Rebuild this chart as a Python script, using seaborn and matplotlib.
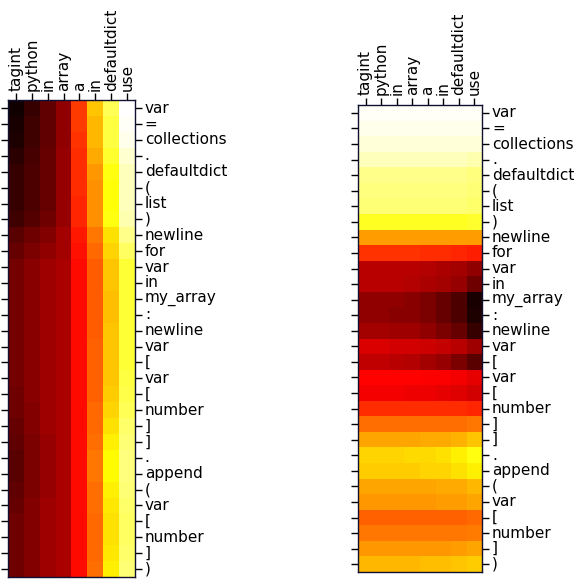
import numpy as np
import matplotlib
matplotlib.use("Agg")
import matplotlib.pyplot as plt
import seaborn as sns

# -----------------------------
# данные
# -----------------------------
columns = ["tagint", "python", "in", "array", "a", "in", "defaultdict", "use"]

tokens = ["var", "=", "collections", ".", "defaultdict", "(", "list", ")",
          "newline", "for", "var", "in", "my_array", ":", "newline",
          "var", "[", "var", "[", "number", "]", "]", ".", "append",
          "(", "var", "[", "number", "]", ")"]

# left heatmap: one row per token, one value per column
left_values = [
    [0.01, 0.07, 0.13, 0.20, 0.45, 0.66, 0.83, 1.00],
    [0.02, 0.08, 0.13, 0.20, 0.45, 0.64, 0.81, 0.99],
    [0.03, 0.08, 0.13, 0.20, 0.44, 0.64, 0.81, 0.98],
    [0.05, 0.09, 0.14, 0.21, 0.43, 0.62, 0.79, 0.95],
    [0.07, 0.10, 0.14, 0.21, 0.43, 0.59, 0.76, 0.93],
    [0.07, 0.10, 0.14, 0.21, 0.43, 0.58, 0.75, 0.93],
    [0.07, 0.10, 0.14, 0.21, 0.42, 0.58, 0.75, 0.93],
    [0.08, 0.11, 0.15, 0.21, 0.42, 0.58, 0.76, 0.92],
    [0.12, 0.15, 0.18, 0.23, 0.40, 0.54, 0.70, 0.88],
    [0.14, 0.17, 0.20, 0.23, 0.39, 0.52, 0.68, 0.84],
    [0.16, 0.19, 0.22, 0.24, 0.38, 0.50, 0.66, 0.80],
    [0.16, 0.19, 0.22, 0.24, 0.38, 0.50, 0.66, 0.80],
    [0.16, 0.19, 0.22, 0.24, 0.38, 0.50, 0.65, 0.80],
    [0.16, 0.19, 0.22, 0.24, 0.38, 0.50, 0.65, 0.80],
    [0.16, 0.19, 0.22, 0.24, 0.38, 0.50, 0.66, 0.80],
    [0.16, 0.19, 0.22, 0.24, 0.38, 0.51, 0.66, 0.80],
    [0.16, 0.19, 0.22, 0.24, 0.38, 0.51, 0.66, 0.80],
    [0.16, 0.19, 0.22, 0.24, 0.38, 0.51, 0.66, 0.81],
    [0.15, 0.19, 0.22, 0.24, 0.38, 0.51, 0.67, 0.82],
    [0.15, 0.18, 0.22, 0.24, 0.38, 0.52, 0.68, 0.83],
    [0.14, 0.18, 0.22, 0.24, 0.38, 0.52, 0.70, 0.85],
    [0.13, 0.17, 0.21, 0.24, 0.38, 0.53, 0.72, 0.86],
    [0.12, 0.17, 0.21, 0.24, 0.38, 0.54, 0.74, 0.87],
    [0.12, 0.17, 0.21, 0.24, 0.38, 0.54, 0.74, 0.87],
    [0.13, 0.17, 0.21, 0.24, 0.38, 0.53, 0.72, 0.86],
    [0.14, 0.18, 0.22, 0.24, 0.38, 0.53, 0.71, 0.85],
    [0.15, 0.18, 0.22, 0.24, 0.38, 0.52, 0.70, 0.84],
    [0.15, 0.18, 0.22, 0.24, 0.38, 0.52, 0.70, 0.84],
    [0.15, 0.18, 0.22, 0.24, 0.38, 0.52, 0.71, 0.85],
    [0.15, 0.18, 0.22, 0.24, 0.38, 0.53, 0.72, 0.86],
]

# right heatmap
right_values = [
    [0.99, 0.99, 0.99, 0.99, 0.99, 0.99, 0.99, 0.99],
    [0.98, 0.98, 0.98, 0.98, 0.98, 0.98, 0.98, 0.98],
    [0.96, 0.96, 0.96, 0.96, 0.96, 0.96, 0.96, 0.96],
    [0.93, 0.93, 0.93, 0.93, 0.93, 0.93, 0.93, 0.92],
    [0.88, 0.88, 0.88, 0.88, 0.88, 0.88, 0.88, 0.87],
    [0.87, 0.87, 0.87, 0.87, 0.87, 0.87, 0.87, 0.86],
    [0.86, 0.86, 0.86, 0.86, 0.86, 0.86, 0.86, 0.85],
    [0.78, 0.78, 0.78, 0.78, 0.78, 0.78, 0.78, 0.79],
    [0.60, 0.60, 0.60, 0.60, 0.60, 0.60, 0.60, 0.60],
    [0.44, 0.44, 0.44, 0.44, 0.43, 0.43, 0.42, 0.41],
    [0.26, 0.26, 0.26, 0.26, 0.25, 0.24, 0.23, 0.20],
    [0.26, 0.26, 0.26, 0.25, 0.24, 0.23, 0.21, 0.15],
    [0.20, 0.20, 0.20, 0.19, 0.17, 0.14, 0.10, 0.02],
    [0.20, 0.20, 0.19, 0.19, 0.17, 0.14, 0.10, 0.03],
    [0.23, 0.23, 0.22, 0.22, 0.20, 0.17, 0.14, 0.07],
    [0.31, 0.31, 0.30, 0.30, 0.29, 0.28, 0.26, 0.22],
    [0.27, 0.27, 0.26, 0.25, 0.23, 0.21, 0.17, 0.12],
    [0.37, 0.37, 0.37, 0.37, 0.36, 0.36, 0.35, 0.33],
    [0.35, 0.35, 0.35, 0.34, 0.34, 0.33, 0.32, 0.30],
    [0.43, 0.43, 0.43, 0.43, 0.43, 0.43, 0.43, 0.42],
    [0.53, 0.53, 0.53, 0.53, 0.53, 0.53, 0.53, 0.54],
    [0.61, 0.61, 0.61, 0.61, 0.62, 0.62, 0.63, 0.66],
    [0.68, 0.68, 0.68, 0.69, 0.69, 0.70, 0.72, 0.76],
    [0.67, 0.67, 0.67, 0.67, 0.68, 0.68, 0.70, 0.72],
    [0.61, 0.61, 0.61, 0.61, 0.61, 0.62, 0.62, 0.64],
    [0.59, 0.59, 0.59, 0.59, 0.59, 0.60, 0.60, 0.61],
    [0.51, 0.51, 0.51, 0.51, 0.51, 0.51, 0.51, 0.52],
    [0.54, 0.54, 0.54, 0.54, 0.54, 0.54, 0.54, 0.55],
    [0.59, 0.59, 0.59, 0.59, 0.59, 0.59, 0.60, 0.61],
    [0.64, 0.64, 0.64, 0.64, 0.65, 0.65, 0.66, 0.67],
]

# -----------------------------
# рисование
# -----------------------------
plt.rcParams['font.family'] = ['DejaVu Sans']

fig = plt.figure(figsize=(5.74, 5.80), dpi=100)
ax_left = fig.add_axes([0.0122, 0.0052, 0.2247, 0.822])
ax_right = fig.add_axes([0.622, 0.0138, 0.2195, 0.805])


def draw(ax, values):
    sns.heatmap(np.array(values), cmap='hot', vmin=0, vmax=1, cbar=False,
                square=True, xticklabels=columns, yticklabels=tokens,
                linewidths=0, ax=ax)
    for s in ax.spines.values():
        s.set_visible(True)
        s.set_color('#101030')
        s.set_linewidth(1.0)
    ax.xaxis.tick_top()
    ax.yaxis.tick_right()
    ax.tick_params(left=True, right=True, top=True, bottom=False,
                   labelleft=False, labelright=True, labeltop=True,
                   labelbottom=False, direction='out', length=5,
                   width=1, labelsize=11, pad=2)
    ax.set_xticklabels(columns, rotation=90, va='bottom', ha='center')
    ax.set_yticklabels(tokens, rotation=0, va='center')


draw(ax_left, left_values)
draw(ax_right, right_values)

fig.savefig("out.png", dpi=100, facecolor='white')
